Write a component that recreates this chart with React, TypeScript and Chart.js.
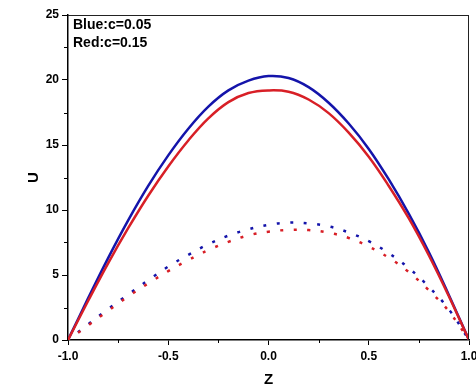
import React, { useEffect, useRef } from "react";
import { Chart, registerables } from "chart.js";

Chart.register(...registerables);

const zValues = [-1, -0.9, -0.8, -0.7, -0.6, -0.5, -0.4, -0.3, -0.2, -0.1, 0, 0.1, 0.2, 0.3, 0.4, 0.5, 0.6, 0.7, 0.8, 0.9, 1];

const blueSolid = [0, 3.2, 6.3, 9.2, 11.85, 14.2, 16.25, 17.95, 19.2, 19.95, 20.3, 20.15, 19.45, 18.25, 16.65, 14.7, 12.35, 9.7, 6.75, 3.45, 0];
const redSolid = [0, 3.0, 5.9, 8.6, 11.1, 13.35, 15.35, 17.05, 18.3, 19.0, 19.2, 19.1, 18.5, 17.45, 15.95, 14.1, 11.85, 9.35, 6.5, 3.35, 0];
const blueDotted = [0, 1.2, 2.38, 3.5, 4.6, 5.65, 6.55, 7.37, 8.03, 8.52, 8.86, 9.03, 8.97, 8.74, 8.27, 7.6, 6.68, 5.53, 4.09, 2.35, 0];
const redDotted = [0, 1.12, 2.25, 3.35, 4.35, 5.3, 6.15, 6.92, 7.55, 8.05, 8.33, 8.47, 8.46, 8.25, 7.85, 7.18, 6.33, 5.22, 3.82, 2.2, 0];

const legendLines = ["Blue:c=0.05", "Red:c=0.15"];
const xMinorTicks = [-0.75, -0.25, 0.25, 0.75];
const yMinorTicks = [2.5, 7.5, 12.5, 17.5, 22.5];

const BLUE = "#1414aa";
const RED = "#d81f26";
const FONT = '"Liberation Sans", Arial, sans-serif';

const toPoints = (ys: number[]) => zValues.map((z, i) => ({ x: z, y: ys[i] }));

const framePlugin = {
  id: "frame",
  afterDraw(chart: any) {
    const { ctx, chartArea, scales } = chart;
    const { left, right, top, bottom } = chartArea;
    ctx.save();
    ctx.strokeStyle = "#222";
    ctx.lineWidth = 1;
    ctx.beginPath();
    ctx.moveTo(left, top + 0.5);
    ctx.lineTo(right, top + 0.5);
    ctx.moveTo(right - 0.5, top);
    ctx.lineTo(right - 0.5, bottom);
    ctx.stroke();

    ctx.strokeStyle = "#000";
    ctx.lineWidth = 1;
    ctx.beginPath();
    xMinorTicks.forEach((v) => {
      const px = Math.round(scales.x.getPixelForValue(v)) + 0.5;
      ctx.moveTo(px, bottom);
      ctx.lineTo(px, bottom + 3);
    });
    yMinorTicks.forEach((v) => {
      const py = Math.round(scales.y.getPixelForValue(v)) + 0.5;
      ctx.moveTo(left, py);
      ctx.lineTo(left - 4, py);
    });
    ctx.stroke();

    ctx.fillStyle = "#000";
    ctx.font = `bold 14px ${FONT}`;
    ctx.textAlign = "left";
    ctx.textBaseline = "middle";
    legendLines.forEach((t, i) => {
      ctx.fillText(t, left + 5, top + 10 + i * 18.5);
    });
    ctx.restore();
  },
};

const lineDataset = (label: string, ys: number[], color: string, dotted: boolean) => ({
  label,
  data: toPoints(ys),
  borderColor: color,
  borderWidth: 2.5,
  borderDash: dotted ? [3, 10.5] : [],
  borderDashOffset: dotted ? 1 : 0,
  pointRadius: 0,
  tension: 0.4,
  fill: false,
});

export default function App() {
  const canvasRef = useRef<HTMLCanvasElement | null>(null);

  useEffect(() => {
    const canvas = canvasRef.current;
    if (!canvas) return;
    const chart = new Chart(canvas, {
      type: "line",
      data: {
        datasets: [
          lineDataset("Red solid", redSolid, RED, false),
          lineDataset("Red dotted", redDotted, RED, true),
          lineDataset("Blue solid", blueSolid, BLUE, false),
          lineDataset("Blue dotted", blueDotted, BLUE, true),
        ],
      },
      options: {
        responsive: false,
        animation: false,
        layout: { padding: { top: 15, right: 7, left: 0, bottom: 0 } },
        plugins: {
          legend: { display: false },
          tooltip: { enabled: false },
        },
        scales: {
          x: {
            type: "linear",
            min: -1,
            max: 1,
            afterFit(scale: any) {
              scale.height = 47;
              scale.paddingLeft = 0;
              scale.paddingRight = 0;
            },
            ticks: {
              stepSize: 0.5,
              color: "#000",
              padding: 4,
              maxRotation: 0,
              font: { family: FONT, size: 12, weight: "bold" },
              callback: (v: any) => Number(v).toFixed(1),
            },
            grid: {
              display: true,
              drawOnChartArea: false,
              drawTicks: true,
              tickLength: 5,
              tickColor: "#000",
              tickWidth: 1,
            },
            border: { display: true, color: "#000", width: 1.5 },
            title: {
              display: true,
              text: "Z",
              color: "#000",
              font: { family: FONT, size: 15, weight: "bold", lineHeight: 1 },
              padding: { top: 0, bottom: 0 },
            },
          },
          y: {
            type: "linear",
            min: 0,
            max: 25,
            afterFit(scale: any) {
              scale.width = 68;
            },
            ticks: {
              stepSize: 5,
              color: "#000",
              padding: 3,
              font: { family: FONT, size: 12, weight: "bold" },
            },
            grid: {
              display: true,
              drawOnChartArea: false,
              drawTicks: true,
              tickLength: 6,
              tickColor: "#000",
              tickWidth: 1,
            },
            border: { display: true, color: "#000", width: 1.5 },
            title: {
              display: true,
              text: "U",
              color: "#000",
              font: { family: FONT, size: 15, weight: "bold", lineHeight: 1 },
              padding: { top: 26, bottom: 0 },
            },
          },
        },
      },
      plugins: [framePlugin],
    });
    return () => chart.destroy();
  }, []);

  return (
    <div style={{ position: "fixed", left: 0, top: 0, width: 476, height: 387, background: "#fff" }}>
      <canvas ref={canvasRef} width={476} height={387} style={{ display: "block" }} />
    </div>
  );
}
